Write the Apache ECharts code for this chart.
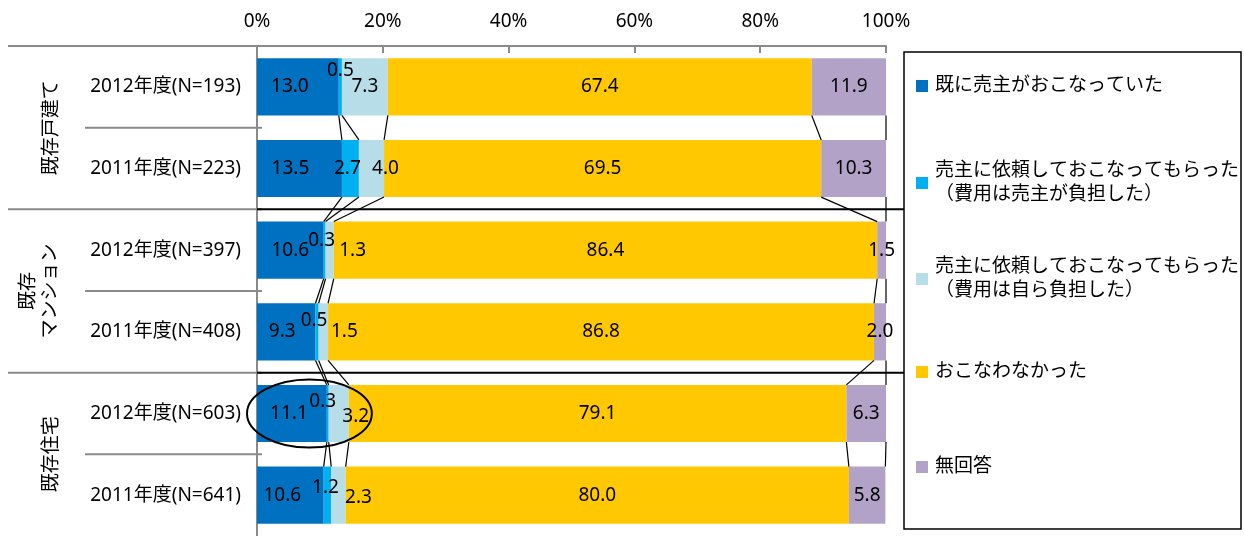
<!DOCTYPE html>
<html>
<head>
<meta charset="utf-8">
<script src="https://cdn.jsdelivr.net/npm/echarts@6/dist/echarts.min.js"></script>
<style>
  html, body { margin: 0; padding: 0; background: #fff; }
  #chart { width: 1244px; height: 536px; }
</style>
</head>
<body>
<div id="chart"></div>
<script>
// Survey rows (top to bottom) and their group headings
const categories = ['2012年度(N=193)', '2011年度(N=223)', '2012年度(N=397)', '2011年度(N=408)', '2012年度(N=603)', '2011年度(N=641)'];
const groups = ['既存戸建て', '既存\nマンション', '既存住宅'];
const groupSize = 2;

// Answer categories (legend order)
const seriesNames = [
  '既に売主がおこなっていた',
  '売主に依頼しておこなってもらった\n（費用は売主が負担した）',
  '売主に依頼しておこなってもらった\n（費用は自ら負担した）',
  'おこなわなかった',
  '無回答'
];

// Shares in percent, one value per row
const sellerDone      = [13.0, 13.5, 10.6, 9.3, 11.1, 10.6];
const sellerPaid      = [0.5, 2.7, 0.3, 0.5, 0.3, 1.2];
const selfPaid        = [7.3, 4.0, 1.3, 1.5, 3.2, 2.3];
const notDone         = [67.4, 69.5, 86.4, 86.8, 79.1, 80.0];
const noAnswer        = [11.9, 10.3, 1.5, 2.0, 6.3, 5.8];
const seriesValues = [sellerDone, sellerPaid, selfPaid, notDone, noAnswer];

const axisTicks = [0, 20, 40, 60, 80, 100];

// ---- styling ----
const colors = ['#0070C0', '#00B0F0', '#B7DEE8', '#FFC800', '#B3A2C7'];
const FONT = "'Noto Sans', 'Noto Sans CJK JP', sans-serif";
const TEXT = '#000';
const GREY = '#8a8a8a';
const BAR_FRACTION = 0.70;

// nudges for crowded value labels, keyed "row-series"
const labelNudge = {
  '0-0': [-8, 0], '0-1': [0, -16],
  '1-0': [-9, 0], '1-1': [-3, 0], '1-2': [14, 0],
  '2-1': [-3, -10], '2-2': [23, 0],
  '3-0': [-4, 0], '3-1': [-3, -11], '3-2': [21, 0],
  '4-0': [-3, 0], '4-1': [-5, -12], '4-2': [17, 3],
  '5-0': [-8, 0], '5-1': [-2, -8], '5-2': [20, 2]
};

const chart = echarts.init(document.getElementById('chart'), null, { renderer: 'canvas' });

const barSeries = seriesValues.map((vals, s) => ({
  name: seriesNames[s],
  type: 'bar',
  stack: 'total',
  barCategoryGap: ((1 - BAR_FRACTION) * 100) + '%',
  itemStyle: { color: colors[s] },
  z: 2,
  label: {
    show: true,
    position: 'inside',
    color: TEXT,
    fontFamily: FONT,
    fontSize: 19,
    formatter: p => p.value.toFixed(1)
  },
  data: vals.map((v, i) => {
    const nudge = labelNudge[i + '-' + s];
    return nudge ? { value: v, label: { offset: nudge } } : v;
  })
}));

// connector lines joining each segment boundary of neighbouring bars
const connectorSeries = {
  type: 'custom',
  name: 'connectors',
  silent: true,
  z: 3,
  encode: { x: 0, y: 1 },
  data: categories.slice(0, -1).map((c, i) => [0, i]),
  renderItem(params, api) {
    const i = params.dataIndex;
    const half = api.size([0, 1])[1] * BAR_FRACTION / 2;
    const children = [];
    let a = 0, b = 0;
    for (let s = 0; s < seriesValues.length; s++) {
      a += seriesValues[s][i];
      b += seriesValues[s][i + 1];
      const p1 = api.coord([Math.min(a, 100), i]);
      const p2 = api.coord([Math.min(b, 100), i + 1]);
      children.push({
        type: 'line',
        shape: { x1: p1[0], y1: p1[1] + half, x2: p2[0], y2: p2[1] - half },
        style: { stroke: '#000', lineWidth: 1.2 }
      });
    }
    return { type: 'group', children };
  }
};

// one legend block per answer, stacked inside a framed box
const legendCenters = [86, 183, 279, 372, 467];
const legends = seriesNames.map((name, s) => {
  const twoLine = name.indexOf('\n') >= 0;
  return {
    data: [name],
    left: 916,
    top: legendCenters[s] - (twoLine ? 36 : 12),
    padding: 0,
    orient: 'vertical',
    icon: 'rect',
    itemWidth: 12,
    itemHeight: 12,
    itemGap: 0,
    selectedMode: false,
    textStyle: {
      fontFamily: FONT,
      fontSize: 19,
      color: TEXT,
      lineHeight: 24,
      padding: twoLine ? [24, 0, 0, 2] : [0, 0, 0, 2]
    }
  };
});

chart.setOption({
  animation: false,
  backgroundColor: '#fff',
  grid: { left: 257, right: 358, top: 46, bottom: 0, containLabel: false },
  legend: legends,
  xAxis: {
    type: 'value',
    position: 'top',
    min: axisTicks[0],
    max: axisTicks[axisTicks.length - 1],
    interval: axisTicks[1] - axisTicks[0],
    axisLine: { show: true, lineStyle: { color: GREY, width: 2 } },
    axisTick: { show: true, inside: true, length: 7, lineStyle: { color: GREY, width: 2 } },
    splitLine: { show: false },
    axisLabel: {
      margin: 15,
      fontFamily: FONT,
      fontSize: 19,
      color: TEXT,
      formatter: '{value}%'
    }
  },
  yAxis: {
    type: 'category',
    inverse: true,
    data: categories,
    axisLine: { show: true, lineStyle: { color: GREY, width: 2 } },
    axisTick: { show: false },
    axisLabel: { margin: 16, fontFamily: FONT, fontSize: 19, color: TEXT }
  },
  series: [...barSeries, connectorSeries]
});

// frame lines, group headings, legend frame and the highlight ellipse
function decorate() {
  const yOf = k => chart.convertToPixel({ yAxisIndex: 0 }, k);
  const band = yOf(1) - yOf(0);
  const edge = k => yOf(0) - band / 2 + k * band;
  const x0 = chart.convertToPixel({ xAxisIndex: 0 }, 0);
  const g = [];
  const line = (x1, y1, x2, y2, color, w) => g.push({
    type: 'line', z: 10, silent: true,
    shape: { x1, y1, x2, y2 }, style: { stroke: color, lineWidth: w }
  });

  for (let k = 0; k <= categories.length; k++) {
    const y = edge(k);
    if (k % groupSize === 0) {
      if (k < categories.length) line(8, y, x0 + (k === 0 ? 0 : 5), y, GREY, 2);
      if (k > 0 && k < categories.length) line(x0, y, 904, y, '#000', 2);
    } else {
      line(85, y, x0 + 5, y, GREY, 2);
    }
  }

  groups.forEach((label, gi) => {
    const cy = (edge(gi * groupSize) + edge(gi * groupSize + groupSize)) / 2;
    const twoLine = label.indexOf('\n') >= 0;
    g.push({
      type: 'text', z: 10, silent: true,
      x: twoLine ? 40 : 52, y: cy, rotation: Math.PI / 2,
      style: {
        text: label, fontFamily: FONT, fontSize: 19, fill: TEXT,
        align: 'center', verticalAlign: 'middle', lineHeight: 22
      }
    });
  });

  g.push({
    type: 'rect', z: 10, silent: true,
    shape: { x: 904, y: 52, width: 337, height: 477 },
    style: { fill: 'none', stroke: '#000', lineWidth: 1.5 }
  });

  // ring around the first three segments of the 2012 既存住宅 bar
  const row = 4;
  let upto = 0;
  for (let s = 0; s < 3; s++) upto += seriesValues[s][row];
  const left = x0 - 10;
  const right = chart.convertToPixel({ xAxisIndex: 0 }, upto) + 23;
  g.push({
    type: 'ellipse', z: 11, silent: true,
    shape: { cx: (left + right) / 2, cy: yOf(row), rx: (right - left) / 2, ry: 34 },
    style: { fill: 'none', stroke: '#000', lineWidth: 2 }
  });

  chart.setOption({ graphic: g });
}
decorate();
</script>
</body>
</html>
